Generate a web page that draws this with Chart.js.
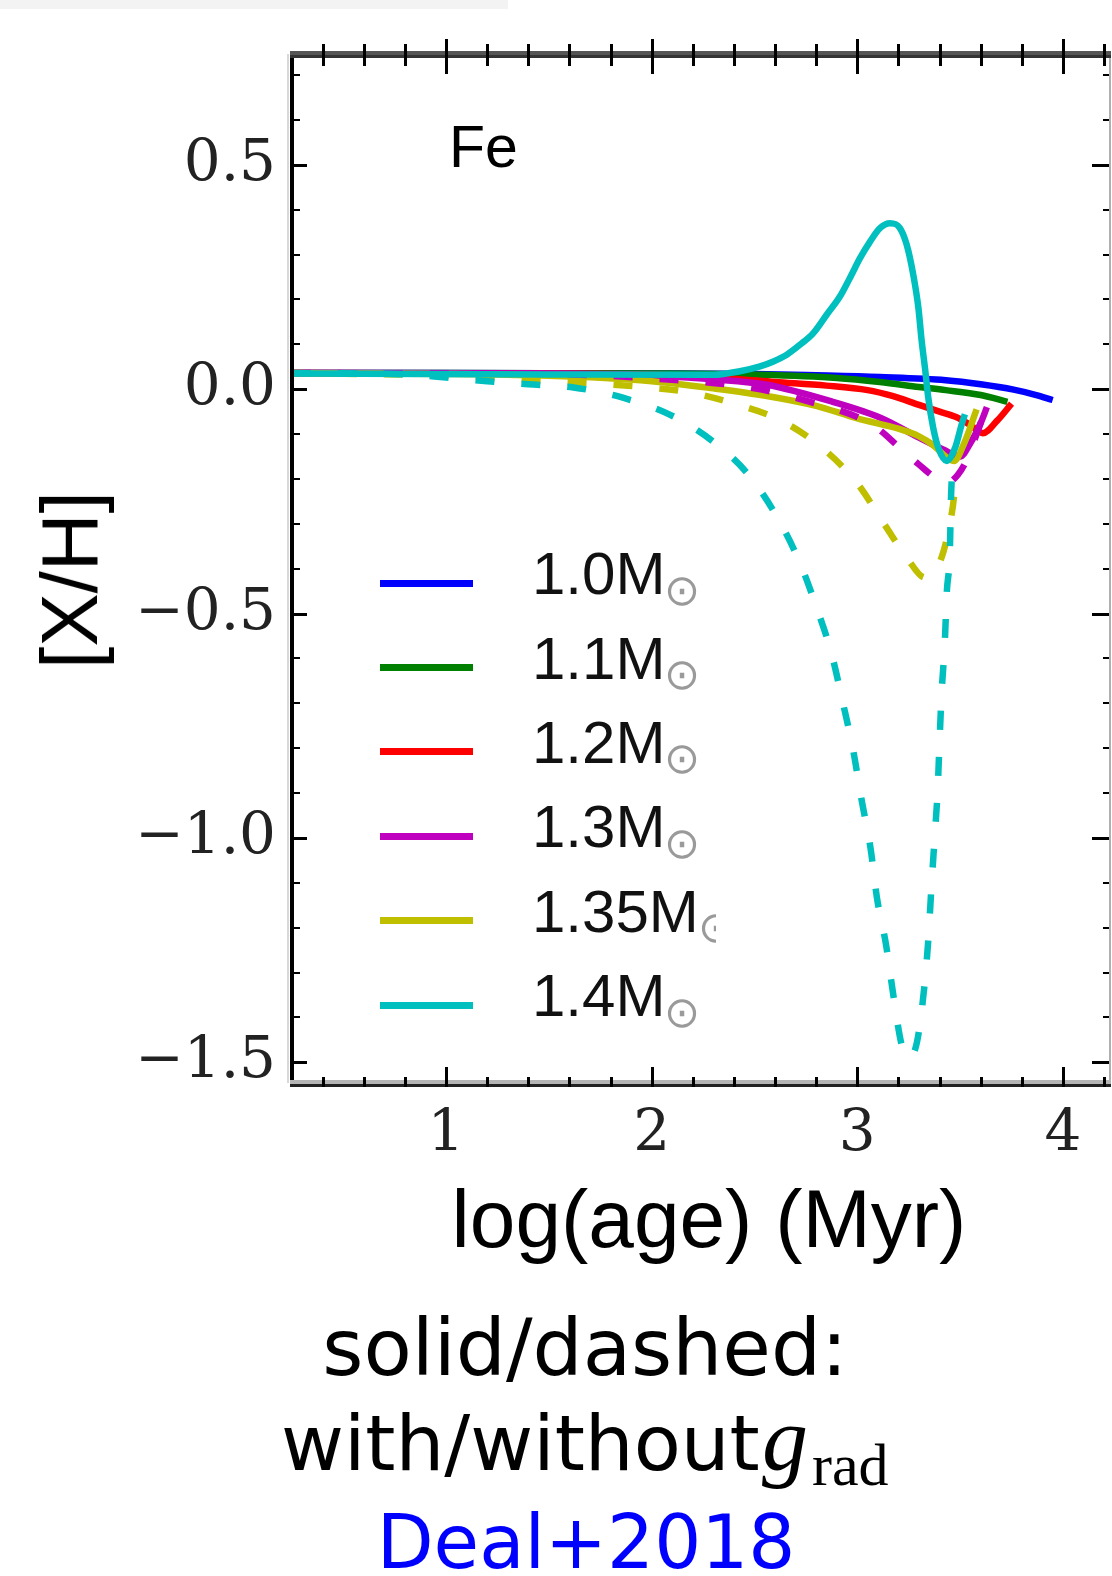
<!DOCTYPE html>
<html><head><meta charset="utf-8">
<script src="https://cdn.jsdelivr.net/npm/chart.js@4.4.1/dist/chart.umd.min.js"></script>
<style>
html,body{margin:0;padding:0;background:#fff;}
#wrap{position:relative;width:1112px;height:1576px;overflow:hidden;background:#fff;}
#c{position:absolute;left:0;top:0;}
.t{position:absolute;white-space:nowrap;line-height:1;color:#000;}
.sans{font-family:"Liberation Sans",Arial,sans-serif;}
.geo{font-family:"DejaVu Sans",sans-serif;}
.serif{font-family:"Liberation Serif",serif;}
#strip{position:absolute;left:0;top:0;width:508px;height:9px;background:#f3f3f3;}
.lgline{position:absolute;height:7px;}
.sun{position:absolute;font-family:"DejaVu Sans",sans-serif;font-size:43px;line-height:1;color:#9a9a9a;overflow:hidden;white-space:nowrap;}
</style></head><body>
<div id="wrap">
<div id="strip"></div>
<canvas id="c" width="1112" height="1576"></canvas>
<div class="t sans" style="left:449px;top:118px;font-size:59px;">Fe</div>
<div class="t sans" style="left:70px;top:580px;font-size:80px;transform:translate(-50%,-50%) rotate(-90deg);">[X/H]</div>
<div class="t sans" style="left:709px;top:1178px;font-size:82px;transform:translateX(-50%);">log(age) (Myr)</div>
<div class="t geo" style="left:585px;top:1309px;font-size:79px;transform:translateX(-50%);">solid/dashed:</div>
<div class="t geo" style="left:281px;top:1405px;font-size:77px;">with/without</div>
<div class="t serif" style="left:762px;top:1393px;font-size:92px;font-style:italic;">g</div>
<div class="t serif" style="left:812px;top:1435px;font-size:60px;">rad</div>
<div class="t geo" style="left:586px;top:1505px;font-size:74px;color:#0000ff;transform:translateX(-50%);">Deal+2018</div>
<div id="legend"></div>
</div>
<script>
// ---- data ----
const masses = ['1.0', '1.1', '1.2', '1.3', '1.35', '1.4'];
const colors = ['#0000ff', '#008000', '#ff0000', '#bf00bf', '#bfbf00', '#00bfbf'];

const solid_10 = [[0.25,0.036],[1.0,0.036],[2.0,0.035],[2.5,0.034],[2.8,0.031],[3.11,0.027],[3.43,0.02],[3.6,0.011],[3.76,-0.001],[3.87,-0.013],[3.95,-0.024]];
const solid_11 = [[0.25,0.036],[1.0,0.036],[2.0,0.035],[2.53,0.032],[2.9,0.025],[3.11,0.016],[3.3,0.005],[3.43,-0.002],[3.6,-0.013],[3.73,-0.028]];
const solid_12 = [[0.25,0.036],[1.5,0.035],[2.0,0.032],[2.37,0.024],[2.6,0.016],[2.85,0.008],[3.05,-0.002],[3.17,-0.015],[3.3,-0.035],[3.4,-0.05],[3.48,-0.062],[3.55,-0.08],[3.61,-0.098],[3.68,-0.07],[3.75,-0.032]];
const solid_13 = [[0.25,0.036],[1.5,0.035],[2.0,0.03],[2.3,0.022],[2.56,0.01],[2.88,-0.028],[3.12,-0.065],[3.3,-0.108],[3.42,-0.135],[3.5,-0.15],[3.55,-0.12],[3.6,-0.075],[3.63,-0.04]];
const solid_135 = [[0.25,0.036],[1.5,0.03],[2.0,0.018],[2.3,0.002],[2.56,-0.015],[2.8,-0.037],[3.0,-0.065],[3.2,-0.088],[3.3,-0.105],[3.37,-0.125],[3.43,-0.15],[3.47,-0.16],[3.52,-0.12],[3.58,-0.045]];
const solid_14 = [[0.25,0.035],[1.5,0.033],[2.3,0.032],[2.429,0.040],[2.527,0.051],[2.592,0.062],[2.657,0.077],[2.721,0.099],[2.786,0.125],[2.851,0.166],[2.916,0.207],[2.964,0.248],[3.013,0.292],[3.062,0.329],[3.110,0.359],[3.159,0.370],[3.207,0.359],[3.240,0.322],[3.272,0.255],[3.297,0.181],[3.313,0.107],[3.329,0.047],[3.345,-0.019],[3.369,-0.086],[3.394,-0.131],[3.434,-0.160],[3.475,-0.131],[3.507,-0.079],[3.523,-0.056]];

const dash_13 = [[0.25,0.036],[1.5,0.034],[2.0,0.024],[2.5,0.002],[2.8,-0.032],[3.0,-0.062],[3.1,-0.088],[3.2,-0.128],[3.3,-0.168],[3.38,-0.198],[3.43,-0.21],[3.49,-0.19],[3.54,-0.15],[3.58,-0.1],[3.62,-0.05]];
const dash_135 = [[0.25,0.036],[1.0,0.03],[1.5,0.018],[1.93,0.006],[2.17,-0.006],[2.4,-0.032],[2.63,-0.07],[2.83,-0.131],[3.0,-0.21],[3.13,-0.30],[3.24,-0.375],[3.33,-0.42],[3.38,-0.405],[3.42,-0.36],[3.45,-0.30],[3.47,-0.24],[3.48,-0.18]];
const dash_14 = [[0.25,0.036],[0.8,0.033],[1.0,0.026],[1.2,0.018],[1.4,0.011],[1.62,0.004],[1.86,-0.019],[2.09,-0.057],[2.3,-0.117],[2.47,-0.19],[2.61,-0.285],[2.72,-0.386],[2.80,-0.484],[2.875,-0.59],[2.93,-0.699],[2.98,-0.805],[3.02,-0.913],[3.065,-1.025],[3.095,-1.132],[3.14,-1.239],[3.175,-1.35],[3.215,-1.46],[3.25,-1.49],[3.29,-1.455],[3.325,-1.335],[3.345,-1.228],[3.36,-1.112],[3.375,-1.005],[3.39,-0.898],[3.40,-0.783],[3.41,-0.676],[3.425,-0.568],[3.435,-0.453],[3.45,-0.36],[3.455,-0.25],[3.46,-0.19]];

const xMin = 0.2464, xMax = 4.2237, yMin = -1.546, yMax = 0.747;
const xMajorTicks = [1, 2, 3, 4];
const yMajorTicks = [-1.5, -1.0, -0.5, 0.0, 0.5];

// ---- build ----
const solids = [solid_10, solid_11, solid_12, solid_13, solid_135, solid_14];
const dashes = [null, null, null, dash_13, dash_135, dash_14];
const solidOrder = [8, 7, 6, 5, 4, 0];
const toXY = a => a.map(p => ({x: p[0], y: p[1]}));
const datasets = [];
solids.forEach((s, i) => {
  datasets.push({label: masses[i] + ' solid', data: toXY(s), borderColor: colors[i], borderWidth: 6.5,
    showLine: true, pointRadius: 0, fill: false, cubicInterpolationMode: 'monotone', order: solidOrder[i]});
  if (dashes[i]) datasets.push({label: masses[i] + ' dashed', data: toXY(dashes[i]), borderColor: colors[i], borderWidth: 6.5,
    borderDash: [19, 27], borderCapStyle: 'butt', showLine: true, pointRadius: 0, fill: false,
    cubicInterpolationMode: 'monotone', order: 1 + (5 - i)});
});

const fmt = v => {
  const r = Math.round(v * 10) / 10;
  if (r === 0) return '0.0';
  return (r < 0 ? '\u2212' : '') + Math.abs(r).toFixed(1);
};
const near = (v, arr) => arr.some(t => Math.abs(v - t) < 1e-6);

const framePlugin = {
  id: 'frame',
  afterDraw(chart) {
    const {ctx, chartArea: a, scales: {x, y}} = chart;
    ctx.save();
    const xT = [], yT = [];
    for (let k = 1; k <= 21; k++) { const v = Math.round(k * 2) / 10; if (v > xMin && v < xMax) xT.push(v); }
    for (let k = -15; k <= 7; k++) { const v = k / 10; if (v >= yMin && v <= yMax) yT.push(v); }
    ctx.fillStyle = '#d8d8d8'; ctx.fillRect(a.left - 4, a.top, 2, a.bottom - a.top);
    ctx.fillStyle = '#000'; ctx.fillRect(a.left - 1, a.top, 4, a.bottom - a.top + 3);
    ctx.fillStyle = '#b0b0b0'; ctx.fillRect(a.right, a.top, 2, a.bottom - a.top);
    ctx.fillStyle = '#555'; ctx.fillRect(a.left - 1, a.top - 3, a.right - a.left + 3, 4);
    ctx.fillStyle = '#333'; ctx.fillRect(a.left - 1, a.top + 1, a.right - a.left + 3, 3);
    ctx.fillStyle = '#b5b5b5'; ctx.fillRect(a.left - 1, a.bottom - 3, a.right - a.left + 3, 4);
    ctx.fillStyle = '#222'; ctx.fillRect(a.left - 1, a.bottom + 1, a.right - a.left + 3, 3);
    ctx.fillStyle = '#000';
    xT.forEach(v => {
      const px = Math.round(x.getPixelForValue(v));
      const maj = near(v, xMajorTicks);
      if (maj) { ctx.fillRect(px - 1, a.top - 15, 3, 35); ctx.fillRect(px - 1, a.bottom - 16, 3, 20); }
      else { ctx.fillRect(px - 1, a.top - 10, 3, 22); ctx.fillRect(px - 1, a.bottom - 6, 3, 10); }
    });
    yT.forEach(v => {
      const py = Math.round(y.getPixelForValue(v));
      const maj = near(v, yMajorTicks);
      if (maj) { ctx.fillRect(a.left + 3, py - 1, 13, 3); ctx.fillRect(a.right - 17, py - 1, 17, 3); }
      else { ctx.fillRect(a.left + 3, py - 1, 6, 2); ctx.fillRect(a.right - 6, py - 1, 6, 2); }
    });
    ctx.restore();
  }
};

new Chart(document.getElementById('c'), {
  type: 'scatter',
  data: {datasets},
  options: {
    responsive: false, animation: false, devicePixelRatio: 1,
    layout: {padding: {top: 54, right: 3, left: 0, bottom: 0}},
    plugins: {legend: {display: false}, tooltip: {enabled: false}},
    scales: {
      x: {type: 'linear', position: 'bottom', min: xMin, max: xMax,
        afterFit: s => { s.height = 493; },
        grid: {display: false, drawTicks: false}, border: {display: false},
        ticks: {stepSize: 1, includeBounds: false, autoSkip: false, maxRotation: 0, padding: 17, color: '#222',
          font: {family: 'DejaVu Serif', size: 58},
          callback: v => near(v, xMajorTicks) ? String(Math.round(v)) : ''}},
      y: {type: 'linear', position: 'left', min: yMin, max: yMax,
        afterFit: s => { s.width = 291; },
        grid: {display: false, drawTicks: false}, border: {display: false},
        ticks: {stepSize: 0.5, includeBounds: false, autoSkip: false, padding: 15, color: '#222',
          font: {family: 'DejaVu Serif', size: 58},
          callback: v => near(v, yMajorTicks) ? fmt(v) : ''}}
    }
  },
  plugins: [framePlugin]
});

// legend
const lg = document.getElementById('legend');
masses.forEach((m, i) => {
  const base = 595 + i * 84.4;
  const ln = document.createElement('div');
  ln.className = 'lgline';
  ln.style.cssText = `left:380px;width:93px;top:${base - 15.5}px;background:${colors[i]};`;
  lg.appendChild(ln);
  const t = document.createElement('div');
  t.className = 't sans';
  t.style.cssText = `left:532px;top:${base - 50.8}px;font-size:60px;color:#111;`;
  t.textContent = m + 'M';
  lg.appendChild(t);
  const s = document.createElement('span');
  s.className = 'sun';
  const sx = m === '1.35' ? 698 : 664;
  s.style.cssText = `left:${sx}px;top:${base - 26.5}px;` + (m === '1.35' ? 'width:18px;' : '');
  s.textContent = '\u2299';
  lg.appendChild(s);
});
</script>
</body></html>
